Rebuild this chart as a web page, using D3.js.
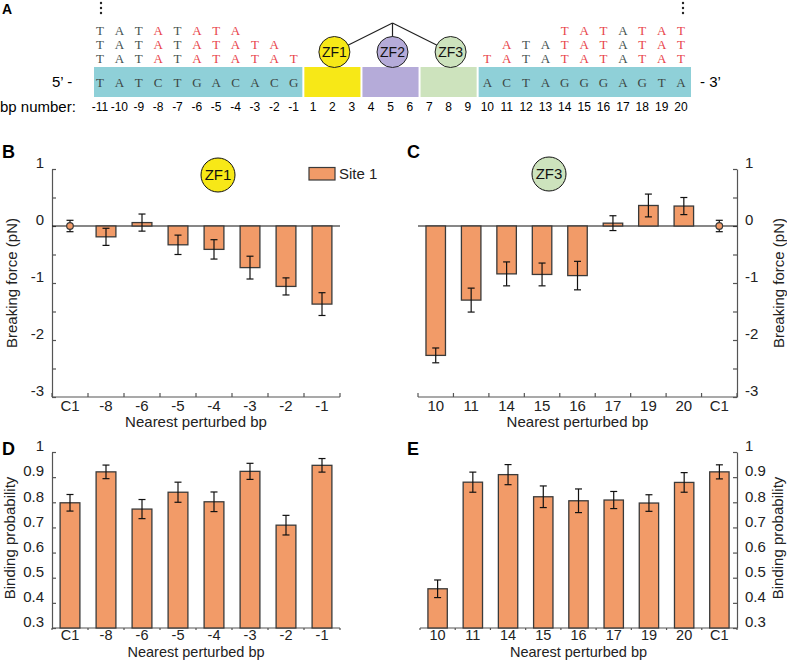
<!DOCTYPE html>
<html>
<head>
<meta charset="utf-8">
<script src="https://cdn.jsdelivr.net/npm/d3@7"></script>
<style>
  body { margin: 0; background: #fff; }
  svg { display: block; }
  text { font-family: "Liberation Sans", Arial, sans-serif; }
</style>
</head>
<body>
<svg id="chart" width="787" height="660"></svg>
<script>
// ---------------- DATA ----------------
// Panel A: DNA sequence
const bpNumbers = [-11,-10,-9,-8,-7,-6,-5,-4,-3,-2,-1,1,2,3,4,5,6,7,8,9,10,11,12,13,14,15,16,17,18,19,20];
const leftSeq = "TATCTGACACG";      // bp -11 .. -1
const rightSeq = "ACTAGGGAGTA";     // bp 10 .. 20
const leftRows = [                  // perturbed sequences, start at bp -11
  "TATATATA",
  "TATATATATA",
  "TATATATATAT"
];
const rightRowStarts = [14, 11, 10];
const rightRows = [
  "TATATAT",
  "ATATATATAT",
  "TATATATATAT"
];
const zfNames = ["ZF1", "ZF2", "ZF3"];
const zfCenters = [2, 5, 8];
const zfColors = ["#f7e817", "#b5abd9", "#cde3bd"];

// Panel B: breaking force, ZF1 side
const catsB = ["C1", "-8", "-6", "-5", "-4", "-3", "-2", "-1"];
const forceB = [0, -0.19, 0.06, -0.33, -0.41, -0.73, -1.06, -1.37];
const forceErrB = [0.10, 0.15, 0.15, 0.17, 0.17, 0.20, 0.15, 0.20];

// Panel C: breaking force, ZF3 side
const catsC = ["10", "11", "14", "15", "16", "17", "19", "20", "C1"];
const forceC = [-2.27, -1.30, -0.84, -0.85, -0.87, 0.05, 0.36, 0.35, 0];
const forceErrC = [0.13, 0.21, 0.21, 0.20, 0.25, 0.13, 0.20, 0.15, 0.10];

// Panel D: binding probability, ZF1 side
const probD = [0.798, 0.921, 0.773, 0.840, 0.802, 0.923, 0.709, 0.947];
const probErrD = [0.033, 0.027, 0.038, 0.040, 0.039, 0.032, 0.039, 0.027];

// Panel E: binding probability, ZF3 side
const probE = [0.456, 0.880, 0.910, 0.822, 0.806, 0.809, 0.797, 0.879, 0.921];
const probErrE = [0.035, 0.040, 0.040, 0.043, 0.047, 0.034, 0.033, 0.039, 0.028];

const forceTicks = [-3, -2.5, -2, -1.5, -1, -0.5, 0, 0.5, 1];
const probTicks = [0.3, 0.4, 0.5, 0.6, 0.7, 0.8, 0.9, 1];

// ---------------- STYLE ----------------
const barFill = "#f29b68";
const barStroke = "#3a3a3a";
const axisColor = "#555";
const red = "#e8434a";
const grey = "#44524f";
const teal = "#8fd0d8";

const svg = d3.select("#chart");
svg.append("rect").attr("width", 787).attr("height", 660).attr("fill", "#fff");

// ---------------- PANEL A ----------------
const gA = svg.append("g");
const xA = d3.scalePoint().domain(bpNumbers).range([100, 681]);
const mid = (a, b) => (xA(a) + xA(b)) / 2;
const boxTop = 67, boxBot = 97;

const boxes = [
  { x0: xA(-11) - 6, x1: mid(-1, 1) - 1, color: teal },
  { x0: mid(-1, 1) + 1, x1: mid(3, 4) - 1, color: zfColors[0] },
  { x0: mid(3, 4) + 1, x1: mid(6, 7) - 1, color: zfColors[1] },
  { x0: mid(6, 7) + 1, x1: mid(9, 10) - 1, color: zfColors[2] },
  { x0: mid(9, 10) + 1, x1: xA(20) + 10, color: teal }
];
gA.selectAll("rect.box").data(boxes).join("rect")
  .attr("x", d => d.x0).attr("y", boxTop)
  .attr("width", d => d.x1 - d.x0).attr("height", boxBot - boxTop)
  .attr("fill", d => d.color);

const seqFont = "'Liberation Serif', 'DejaVu Serif', serif";
const leftBps = bpNumbers.filter(b => b < 0);
const rightBps = bpNumbers.filter(b => b >= 10);

function letters(seq, bps, y, colorFn) {
  gA.append("g").selectAll("text").data(seq.split("")).join("text")
    .attr("x", (d, i) => xA(bps[i]))
    .attr("y", y)
    .attr("dy", "0.35em")
    .attr("text-anchor", "middle")
    .style("font-family", seqFont)
    .style("font-size", "13px")
    .attr("fill", (d, i) => colorFn(d, i))
    .text(d => d);
}
// reference sequence in the box
letters(leftSeq, leftBps, 82, () => "#3c4644");
letters(rightSeq, rightBps, 82, () => "#3c4644");

const rowY = [30, 44, 58];
leftRows.forEach((row, r) => {
  letters(row, leftBps, rowY[r], (d, i) => d === leftSeq[i] ? grey : red);
});
rightRows.forEach((row, r) => {
  const startIdx = rightBps.indexOf(rightRowStarts[r]);
  const bps = rightBps.slice(startIdx);
  letters(row, bps, rowY[r], (d, i) => d === rightSeq[startIdx + i] ? grey : red);
});

// vertical dots
[xA(-11) + 1, xA(20) + 2].forEach(x => {
  gA.append("g").selectAll("circle").data([3, 8, 13]).join("circle")
    .attr("cx", x).attr("cy", d => d).attr("r", 1.2).attr("fill", "#222");
});

// tree lines
const apex = { x: xA(5) + 2, y: 23 };
const zfY = 52;
zfCenters.forEach(c => {
  gA.append("line").attr("x1", apex.x).attr("y1", apex.y)
    .attr("x2", xA(c) + 2).attr("y2", zfY)
    .attr("stroke", "#222").attr("stroke-width", 1.2);
});
zfCenters.forEach((c, i) => {
  gA.append("circle").attr("cx", xA(c) + 2).attr("cy", zfY).attr("r", 15.5)
    .attr("fill", zfColors[i]).attr("stroke", "#222").attr("stroke-width", 1);
  gA.append("text").attr("x", xA(c) + 2).attr("y", zfY).attr("dy", "0.35em")
    .attr("text-anchor", "middle").style("font-size", "14px").attr("fill", "#111")
    .text(zfNames[i]);
});

gA.append("text").attr("x", 52).attr("y", 82).attr("dy", "0.35em")
  .style("font-size", "15px").text("5\u2019 -");
gA.append("text").attr("x", 700).attr("y", 82).attr("dy", "0.35em")
  .style("font-size", "15px").text("- 3\u2019");
gA.append("text").attr("x", 0).attr("y", 107).attr("dy", "0.35em")
  .style("font-size", "15px").text("bp number:");
gA.append("g").selectAll("text").data(bpNumbers).join("text")
  .attr("x", d => xA(d)).attr("y", 107).attr("dy", "0.35em")
  .attr("text-anchor", "middle").style("font-size", "12px").text(d => d);

// ---------------- PANEL LABELS ----------------
svg.append("text").attr("x", 2).attr("y", 14).style("font-size", "14px").style("font-weight", "bold").text("A");
[["B", 2, 158], ["C", 407, 158], ["D", 2, 455], ["E", 407, 455]].forEach(([t, x, y]) => {
  svg.append("text").attr("x", x).attr("y", y).style("font-size", "18px").style("font-weight", "bold").text(t);
});

// ---------------- BAR PANELS ----------------
function barPanel(opts) {
  const { cats, values, errs, x0, x1, y, side, ticks, tickFmt, baseline, pointCat, ylabel, ylabelX } = opts;
  const g = svg.append("g");
  const x = d3.scaleBand().domain(cats).range([x0, x1]).paddingInner(0.45).paddingOuter(0.225);
  const [yBot, yTop] = y.range();
  const axisX = side === "left" ? x0 : x1;

  // y axis
  const yAxis = (side === "left" ? d3.axisLeft(y) : d3.axisRight(y))
    .tickValues(ticks).tickSizeInner(-4).tickSizeOuter(0).tickPadding(8).tickFormat(tickFmt);
  const ga = g.append("g").attr("transform", `translate(${axisX},0)`).call(yAxis);
  ga.select(".domain").attr("stroke", axisColor).attr("stroke-width", 1.2);
  ga.selectAll(".tick line").attr("stroke", axisColor).attr("stroke-width", 1.2);
  ga.selectAll(".tick text").attr("y", -6).attr("fill", "#222")
    .style("font-size", "15px").style("font-family", "'Liberation Sans', Arial, sans-serif");

  // x axis line + boundary ticks
  g.append("line").attr("x1", x0).attr("x2", x1).attr("y1", yBot).attr("y2", yBot)
    .attr("stroke", axisColor).attr("stroke-width", 1.2);
  const bounds = d3.range(cats.length + 1).map(i => x0 + i * x.step());
  g.append("g").selectAll("line").data(bounds).join("line")
    .attr("x1", d => d).attr("x2", d => d)
    .attr("y1", yBot).attr("y2", opts.xTickDown ? yBot + 2 : yBot - 4)
    .attr("stroke", axisColor).attr("stroke-width", 1.2);

  // x labels
  const xAxis = d3.axisBottom(x).tickSize(0).tickPadding(opts.xPad);
  const gx = g.append("g").attr("transform", `translate(0,${yBot})`).call(xAxis);
  gx.select(".domain").remove();
  gx.selectAll(".tick text").attr("fill", "#222")
    .style("font-size", opts.xFont + "px").style("font-family", "'Liberation Sans', Arial, sans-serif");
  g.append("text").attr("x", (x0 + x1) / 2).attr("y", yBot + opts.xlabelOffset)
    .attr("text-anchor", "middle").style("font-size", opts.xFont + "px").attr("fill", "#222")
    .text("Nearest perturbed bp");

  // zero line
  if (opts.zeroLine) {
    g.append("line").attr("x1", x0).attr("x2", x1).attr("y1", y(0)).attr("y2", y(0))
      .attr("stroke", "#111").attr("stroke-width", 1.2);
  }

  const data = cats.map((c, i) => ({ c, v: values[i], e: errs[i] }));
  const bars = data.filter(d => d.c !== pointCat);
  g.append("g").selectAll("rect").data(bars).join("rect")
    .attr("x", d => x(d.c)).attr("width", x.bandwidth())
    .attr("y", d => Math.min(y(d.v), y(baseline)))
    .attr("height", d => Math.abs(y(d.v) - y(baseline)))
    .attr("fill", barFill).attr("stroke", barStroke).attr("stroke-width", 1.3);

  // error bars
  const eb = g.append("g").attr("stroke", "#111").attr("stroke-width", 1.2);
  data.forEach(d => {
    const cx = x(d.c) + x.bandwidth() / 2;
    eb.append("line").attr("x1", cx).attr("x2", cx).attr("y1", y(d.v - d.e)).attr("y2", y(d.v + d.e));
    [d.v - d.e, d.v + d.e].forEach(v => {
      eb.append("line").attr("x1", cx - 3.5).attr("x2", cx + 3.5).attr("y1", y(v)).attr("y2", y(v));
    });
  });
  // control point
  data.filter(d => d.c === pointCat).forEach(d => {
    g.append("circle").attr("cx", x(d.c) + x.bandwidth() / 2).attr("cy", y(d.v)).attr("r", 3.3)
      .attr("fill", barFill).attr("stroke", barStroke).attr("stroke-width", 1.2);
  });

  // y label
  g.append("text").attr("transform", `translate(${ylabelX},${(yBot + yTop) / 2 - opts.ylabelShift}) rotate(-90)`)
    .attr("text-anchor", "middle").style("font-size", "15px").attr("fill", "#222").text(ylabel);
  return { g, x };
}

const yForce = d3.scaleLinear().domain([-3, 1]).range([397, 169]);
const forceFmt = d => Number.isInteger(d) ? String(d) : "";
const yProb = d3.scaleLinear().domain([0.3, 1]).range([628, 452]);
const probFmt = d => d === 1 ? "1" : d3.format(".1f")(d);

barPanel({ cats: catsB, values: forceB, errs: forceErrB, x0: 52, x1: 340, y: yForce,
  side: "left", ticks: forceTicks, tickFmt: forceFmt, baseline: 0, pointCat: "C1",
  ylabel: "Breaking force (pN)", ylabelX: 17, ylabelShift: 0, zeroLine: true,
  xlabelOffset: 30, xPad: 3, xFont: 15 });
barPanel({ cats: catsC, values: forceC, errs: forceErrC, x0: 418, x1: 737, y: yForce,
  side: "right", ticks: forceTicks, tickFmt: forceFmt, baseline: 0, pointCat: "C1",
  ylabel: "Breaking force (pN)", ylabelX: 784, ylabelShift: 0, zeroLine: true,
  xlabelOffset: 30, xPad: 3, xFont: 15 });
barPanel({ cats: catsB, values: probD, errs: probErrD, x0: 52, x1: 340, y: yProb,
  side: "left", ticks: probTicks, tickFmt: probFmt, baseline: 0.3, pointCat: null,
  ylabel: "Binding probability", ylabelX: 15, ylabelShift: 2, xTickDown: true,
  xlabelOffset: 29, xPad: 2, xFont: 14.5 });
barPanel({ cats: catsC, values: probE, errs: probErrE, x0: 420, x1: 737, y: yProb,
  side: "right", ticks: probTicks, tickFmt: probFmt, baseline: 0.3, pointCat: null,
  ylabel: "Binding probability", ylabelX: 783, ylabelShift: 2, xTickDown: true,
  xlabelOffset: 29, xPad: 2, xFont: 14.5 });

// ZF circles in B and C
[[218, 175, 0], [549, 174, 2]].forEach(([cx, cy, i]) => {
  svg.append("circle").attr("cx", cx).attr("cy", cy).attr("r", 17)
    .attr("fill", zfColors[i]).attr("stroke", "#111").attr("stroke-width", 1);
  svg.append("text").attr("x", cx).attr("y", cy).attr("dy", "0.35em").attr("text-anchor", "middle")
    .style("font-size", "15px").attr("fill", "#111").text(zfNames[i]);
});

// legend
svg.append("rect").attr("x", 309).attr("y", 167.5).attr("width", 26).attr("height", 12.5)
  .attr("fill", barFill).attr("stroke", barStroke).attr("stroke-width", 1.2);
svg.append("text").attr("x", 339).attr("y", 179).style("font-size", "15px").attr("fill", "#222").text("Site 1");
</script>
</body>
</html>
